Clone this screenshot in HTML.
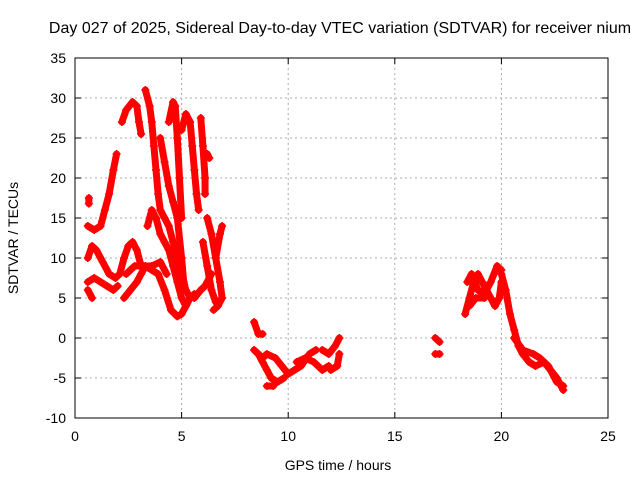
<!DOCTYPE html>
<html><head><meta charset="utf-8"><style>
body{margin:0;background:#fff;}
svg text{font-family:"Liberation Sans",sans-serif;font-size:14px;fill:#000;}
</style></head><body>
<svg id="chart" width="640" height="480">
<text x="340" y="33" text-anchor="middle" style="font-size:16px">Day 027 of 2025, Sidereal Day-to-day VTEC variation (SDTVAR) for receiver nium</text>
<text x="338" y="470" text-anchor="middle">GPS time / hours</text>
<text transform="translate(18,238) rotate(-90)" text-anchor="middle">SDTVAR / TECUs</text>
<g id="grid"></g><g id="marks"></g>
<rect x="75" y="58" width="533" height="360" fill="none" stroke="#000" stroke-width="1"/>
</svg>
<script>
const xTicks=[0,5,10,15,20,25];
const yTicks=[-10,-5,0,5,10,15,20,25,30,35];
const traces=[
[[0.6,14],[0.9,13.5],[1.2,14],[1.4,16],[1.6,18],[1.8,21],[1.95,23]],
[[0.6,10],[0.8,11.5],[1.0,11],[1.3,9.5],[1.6,8],[1.9,7.5],[2.1,8],[2.3,10],[2.5,11.5],[2.7,12],[2.9,11],[3.1,9]],
[[0.6,7],[0.9,7.5],[1.2,7],[1.5,6.5],[1.8,6],[2.0,6.5]],
[[0.6,6],[0.8,5]],
[[0.65,17.5],[0.65,16.8]],
[[2.2,27],[2.4,28.5],[2.7,29.5],[2.9,29],[3.0,27],[3.1,25.5]],
[[3.3,31],[3.5,29],[3.6,27],[3.7,24],[3.8,21],[3.9,18],[4.0,16],[4.2,15],[4.4,14],[4.6,12],[4.8,10],[5.0,8],[5.2,6],[5.4,5],[5.6,5.5]],
[[3.4,14],[3.6,16],[3.8,15],[4.0,13],[4.2,12],[4.4,11],[4.6,9],[4.8,7],[5.0,5],[5.2,4],[5.4,5]],
[[4.0,25],[4.2,22],[4.4,19],[4.6,17],[4.8,15],[5.0,10],[5.1,7]],
[[4.4,27],[4.6,29.5],[4.7,29],[4.8,25],[4.9,20],[5.0,15]],
[[5.0,26],[5.2,28],[5.4,27],[5.5,24],[5.6,21],[5.7,18],[5.8,16]],
[[5.9,27.5],[6.0,24],[6.1,20],[6.1,18]],
[[6.2,23],[6.3,22.5]],
[[2.3,5],[2.6,6],[2.9,7],[3.1,8],[3.3,9],[3.6,8.5],[3.9,8],[4.2,6],[4.5,3.5],[4.8,2.7],[5.0,3],[5.2,4]],
[[2.4,8],[2.8,9],[3.2,9],[3.6,9],[4.0,9.5],[4.3,8]],
[[6.2,15],[6.4,13],[6.6,10],[6.8,7],[6.9,5],[6.7,4],[6.5,3.5]],
[[6.6,10],[6.8,13],[6.9,14]],
[[6.0,12],[6.2,9],[6.4,6],[6.6,4.5]],
[[5.6,5],[5.9,6],[6.1,6.5],[6.4,8]],
[[8.4,2],[8.6,0.5],[8.8,0.5]],
[[8.4,-1.5],[8.6,-2],[8.8,-3],[9.0,-4],[9.2,-5],[9.5,-5.5],[9.8,-5]],
[[8.6,-2],[8.8,-2.5],[9.0,-2],[9.4,-2.5],[9.7,-3.5],[10.0,-4.5],[10.3,-4],[10.6,-3.5],[11.0,-2],[11.3,-1.5]],
[[10.4,-3],[10.8,-2.5],[11.2,-3],[11.6,-4],[11.9,-3.5]],
[[11.6,-1.5],[11.9,-2],[12.2,-1],[12.4,0]],
[[12.0,-4],[12.3,-3.5],[12.4,-2]],
[[9.0,-6],[9.3,-6]],
[[16.9,0],[17.1,-0.5]],
[[16.9,-2],[17.1,-2]],
[[18.3,3],[18.5,5],[18.7,7],[18.9,8],[19.1,7],[19.3,6],[19.5,5],[19.7,4],[19.9,5],[20.0,7]],
[[18.4,7],[18.6,8],[18.9,6],[19.2,5.5],[19.5,7],[19.8,9],[20.0,8.5]],
[[18.5,4],[18.8,5],[19.2,5]],
[[20.0,8],[20.2,6],[20.4,3],[20.6,1],[20.8,-1],[21.0,-2],[21.3,-3],[21.6,-3.5],[22.0,-3],[22.3,-4],[22.6,-5],[22.9,-6.5]],
[[20.6,0],[21.0,-1.5],[21.5,-2],[21.8,-2.5],[22.2,-3.5],[22.6,-5.5],[22.9,-6]]
];
const X0=75,X1=608,Y0=418,Y1=58;
const sx=v=>X0+(v-0)/(25-0)*(X1-X0);
const sy=v=>Y0-(v+10)/(35+10)*(Y0-Y1);
const NS="http://www.w3.org/2000/svg";
const g=document.getElementById('grid'),m=document.getElementById('marks');
function mk(t,a,p){const e=document.createElementNS(NS,t);for(const k in a)e.setAttribute(k,a[k]);p.appendChild(e);return e;}
xTicks.forEach(t=>{const x=sx(t);
 if(t>0&&t<25){const l=mk('line',{x1:x,x2:x,y1:Y1,y2:Y0,stroke:'#aaa','stroke-dasharray':'2,3'},g);}
 const tx=mk('text',{x:x,y:Y0+23,'text-anchor':'middle'},g);tx.textContent=t;
 
 
 mk('line',{x1:x,x2:x,y1:Y0,y2:Y0-6,stroke:'#000'},g);mk('line',{x1:x,x2:x,y1:Y1,y2:Y1+6,stroke:'#000'},g);});
yTicks.forEach(t=>{const y=sy(t);
 if(t>-10&&t<35){const l=mk('line',{x1:X0,x2:X1,y1:y,y2:y,stroke:'#aaa','stroke-dasharray':'2,3'},g);}
 const tx=mk('text',{x:X0-9,y:y+5,'text-anchor':'end'},g);tx.textContent=t;
 
 
 mk('line',{x1:X0,x2:X0+6,y1:y,y2:y,stroke:'#000'},g);mk('line',{x1:X1,x2:X1-6,y1:y,y2:y,stroke:'#000'},g);});
traces.forEach(tr=>{
 const pl=mk('polyline',{points:tr.map(p=>sx(p[0])+','+sy(p[1])).join(' '),fill:'none',stroke:'#f00','stroke-width':7,'stroke-linejoin':'round','stroke-linecap':'round'},m);
 
 
 tr.forEach(p=>{const x=sx(p[0]),y=sy(p[1]);
  const pt=mk('path',{d:`M${x-4},${y}H${x+4}M${x},${y-4}V${y+4}`,stroke:'#f00','stroke-width':1.5},m);
  
  });
});
</script>
</body></html>
